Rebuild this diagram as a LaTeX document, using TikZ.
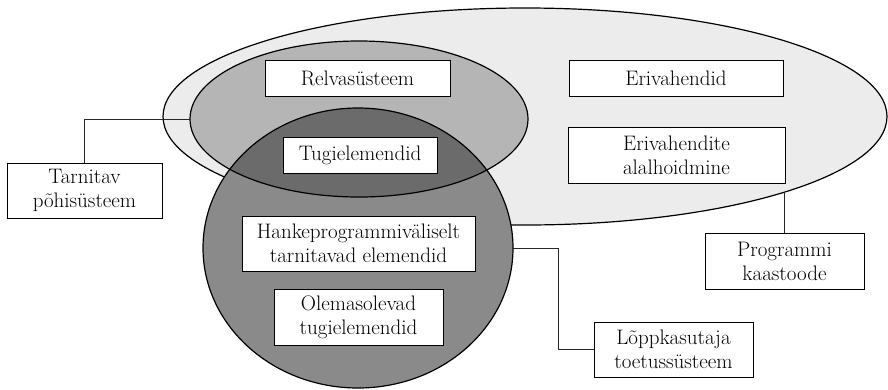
\documentclass[tikz,border=0pt]{standalone}
\begin{document}
\definecolor{lightfill}{RGB}{236,236,236}
\definecolor{medfill}{RGB}{181,181,181}
\definecolor{circfill}{RGB}{138,138,138}
\definecolor{interfill}{RGB}{107,107,107}
\begin{tikzpicture}[x=1pt,y=-1pt,
  box/.style={draw=black,fill=white,line width=0.9pt,rectangle,inner sep=0pt,
    align=center,font=\fontsize{21}{24}\selectfont},
  outline/.style={draw=black,line width=1.2pt},
  conn/.style={draw=black!85,line width=1pt}]
\useasboundingbox (0,0) rectangle (888,389);
% large ellipse
\fill[lightfill] (525,116.5) ellipse [x radius=362pt, y radius=108.5pt];
\draw[outline] (525,116.5) ellipse [x radius=362pt, y radius=108.5pt];
% medium ellipse and circle fills
\fill[medfill] (359,119) ellipse [x radius=169pt, y radius=78pt];
\fill[circfill] (358,248) ellipse [x radius=155pt, y radius=140pt];
\begin{scope}
  \clip (359,119) ellipse [x radius=169pt, y radius=78pt];
  \fill[interfill] (358,248) ellipse [x radius=155pt, y radius=140pt];
\end{scope}
% outlines
\draw[outline] (359,119) ellipse [x radius=169pt, y radius=78pt];
\draw[outline] (358,248) ellipse [x radius=155pt, y radius=140pt];
% anchor points on the shapes
\coordinate (medW) at (190,119);
\coordinate (bigS) at (784.5,192.3);
\coordinate (circE) at (513,248);
% boxes
\node[box,minimum width=185pt,minimum height=36pt] (rel) at (357.5,78) {Relvasüsteem};
\node[box,minimum width=154pt,minimum height=36pt] (tug) at (360,155) {Tugielemendid};
\node[box,minimum width=214pt,minimum height=36pt] (eri) at (676,78) {Erivahendid};
\node[box,minimum width=217pt,minimum height=56pt] (eria) at (676.5,155) {Erivahendite\\alalhoidmine};
\node[box,minimum width=155pt,minimum height=55pt] (tarn) at (84.5,190.5) {Tarnitav\\põhisüsteem};
\node[box,minimum width=233pt,minimum height=55pt] (hank) at (358.5,243.5) {Hankeprogrammiväliselt\\tarnitavad elemendid};
\node[box,minimum width=169pt,minimum height=56pt] (olem) at (358.5,317) {Olemasolevad\\tugielemendid};
\node[box,minimum width=159pt,minimum height=56pt] (prog) at (784.5,261) {Programmi\\kaastoode};
\node[box,minimum width=159pt,minimum height=55pt] (lopp) at (673.5,349.5) {Lõppkasutaja\\toetussüsteem};
% connectors
\draw[conn] (tarn.north) |- (medW);
\draw[conn] (prog.north) -- (bigS);
\draw[conn] (circE) -- ++(45,0) |- (lopp.west);
\end{tikzpicture}
\end{document}
